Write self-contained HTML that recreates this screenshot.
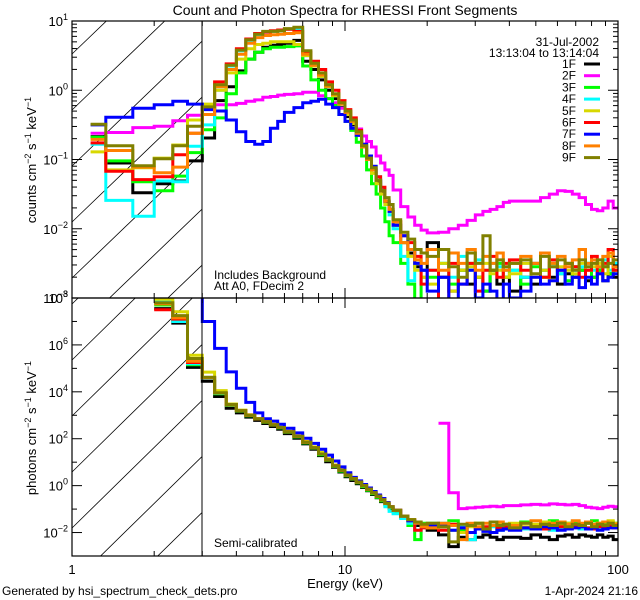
<!DOCTYPE html>
<html><head><meta charset="utf-8">
<style>
html,body{margin:0;padding:0;background:#fff;width:640px;height:600px;overflow:hidden;}
svg{display:block;font-family:"Liberation Sans",sans-serif;}
</style></head>
<body>
<svg id="chart" width="640" height="600" viewBox="0 0 640 600" xmlns="http://www.w3.org/2000/svg">
<rect x="0" y="0" width="640" height="600" fill="#fff"/>
<text x="345" y="15" font-size="14" text-anchor="middle">Count and Photon Spectra for RHESSI Front Segments</text>
<defs>
<clipPath id="clipTop"><rect x="72" y="21" width="546" height="277"/></clipPath>
<clipPath id="clipBot"><rect x="72" y="298" width="546" height="258"/></clipPath>
<clipPath id="hatchTop"><rect x="72" y="21" width="130" height="277"/></clipPath>
<clipPath id="hatchBot"><rect x="72" y="298" width="130" height="258"/></clipPath>
</defs>
<g id="hatch"></g>
<g id="series-top" clip-path="url(#clipTop)"></g>
<g id="series-bot" clip-path="url(#clipBot)"></g>
<g id="axes"></g>
<text transform="translate(36,160) rotate(-90)" font-size="13" text-anchor="middle">counts cm<tspan dy="-5" font-size="9">−2</tspan><tspan dy="5"> s</tspan><tspan dy="-5" font-size="9">−1</tspan><tspan dy="5"> keV</tspan><tspan dy="-5" font-size="9">−1</tspan></text>
<text transform="translate(36,428) rotate(-90)" font-size="13" text-anchor="middle">photons cm<tspan dy="-5" font-size="9">−2</tspan><tspan dy="5"> s</tspan><tspan dy="-5" font-size="9">−1</tspan><tspan dy="5"> keV</tspan><tspan dy="-5" font-size="9">−1</tspan></text>
<text x="345" y="588" font-size="13" text-anchor="middle">Energy (keV)</text>
<text x="599" y="46" font-size="12" text-anchor="end">31-Jul-2002</text>
<text x="599" y="57" font-size="12" text-anchor="end">13:13:04 to 13:14:04</text>
<g id="legend"></g>
<text x="214" y="279" font-size="12">Includes Background</text>
<text x="214" y="290" font-size="12">Att A0, FDecim 2</text>
<text x="214" y="547" font-size="12">Semi-calibrated</text>
<text x="2" y="595" font-size="12">Generated by hsi_spectrum_check_dets.pro</text>
<text x="638" y="595" font-size="12" text-anchor="end">1-Apr-2024 21:16</text>
</svg>
<script>
// Energy bin edges (keV)
const edges = [1.17,1.33,1.67,2.0,2.34,2.65,3.0,
 3.33,3.67,4,4.33,4.67,5,5.33,5.67,6,
 6.5,7,7.5,8,8.5,9,9.5,10,10.5,11,11.5,12,12.5,13,13.5,14,14.5,15,
 16,17,18,19,20,
 22,24,26,28,30,32,34,36,38,40,
 44,48,52,56,60,64,68,72,76,80,84,88,92,96,100];
const seriesNames = ["1F","2F","3F","4F","5F","6F","7F","8F","9F"];
const seriesColors = ["#000000","#ff00ff","#00ff00","#00ffff","#d8d800","#ff0000","#0000ff","#ff8000","#808000"];
// log10 counts cm^-2 s^-1 keV^-1 (top panel)
const counts1F = [-0.67,-1.05,-1.48,-1.35,-1.31,-1.02, -0.69,-0.15,0.05,0.28,0.45,0.55,0.62,0.65,0.66, 0.68,0.72,0.42,0.3,0.15,0.0,-0.12,-0.25,-0.38,-0.5,-0.65,-0.82,-1.0,-1.15,-1.32,-1.48,-1.62,-1.75, -1.95,-2.2,-2.35,-2.55,-2.6, -2.2,-2.7,-2.9,-2.6,-2.8,-2.7,-2.9,-2.6,-2.8,-2.7, -2.9,-2.7,-2.8,-2.6,-2.7,-2.8,-2.65,-2.7,-2.6,-2.75,-2.7,-2.6,-2.75,-2.65,-2.7];
const counts2F = [-0.62,-0.61,-0.54,-0.52,-0.44,-0.36, -0.24,-0.21,-0.21,-0.19,-0.16,-0.14,-0.1,-0.09,-0.07, -0.06,-0.05,-0.03,-0.03,-0.08,-0.12,-0.18,-0.26,-0.35,-0.46,-0.56,-0.66,-0.74,-0.82,-0.95,-1.05,-1.15,-1.23, -1.44,-1.68,-1.83,-1.95,-2.02, -2.06,-2.05,-2.0,-1.95,-1.88,-1.8,-1.75,-1.72,-1.68,-1.62, -1.6,-1.6,-1.6,-1.55,-1.5,-1.45,-1.46,-1.5,-1.55,-1.65,-1.72,-1.74,-1.7,-1.6,-1.7];
const counts3F = [-0.68,-1.02,-1.32,-1.45,-1.24,-0.9, -0.57,-0.4,-0.05,0.25,0.45,0.55,0.6,0.62,0.62, 0.63,0.64,0.35,0.15,0.0,-0.12,-0.22,-0.35,-0.45,-0.58,-0.75,-0.95,-1.15,-1.35,-1.5,-1.7,-1.9,-2.1, -2.2,-2.5,-2.8,-3.1,-2.7, -2.7,-2.5,-2.8,-2.6,-2.5,-2.7,-2.9,-2.6,-2.5,-2.7, -2.6,-2.8,-2.55,-2.7,-2.5,-2.65,-2.75,-2.55,-2.6,-2.5,-2.7,-2.6,-2.55,-2.65,-2.6];
const counts4F = [-0.78,-1.59,-1.82,-1.31,-1.32,-0.81, -0.5,0.0,0.35,0.57,0.72,0.8,0.84,0.85,0.86, 0.88,0.88,0.5,0.35,0.2,0.05,-0.08,-0.2,-0.32,-0.45,-0.62,-0.8,-0.95,-1.1,-1.25,-1.42,-1.65,-1.8, -2.0,-2.4,-2.75,-2.5,-2.6, -2.6,-2.5,-2.7,-2.4,-2.6,-2.45,-2.6,-2.5,-2.55,-2.6, -2.6,-2.7,-2.5,-2.6,-2.55,-2.65,-2.5,-2.6,-2.55,-2.5,-2.6,-2.55,-2.45,-2.6,-2.5];
const counts5F = [-0.89,-1.15,-1.12,-0.98,-0.79,-0.43, -0.2,0.0,0.25,0.45,0.6,0.66,0.68,0.7,0.7, 0.7,0.66,0.5,0.35,0.2,0.05,-0.08,-0.2,-0.35,-0.48,-0.62,-0.82,-1.0,-1.2,-1.35,-1.5,-1.65,-1.75, -1.95,-2.2,-2.4,-2.6,-2.7, -2.8,-2.5,-2.9,-2.6,-2.55,-2.7,-2.5,-2.65,-2.6,-2.7, -2.65,-2.5,-2.7,-2.6,-2.75,-2.55,-2.6,-2.65,-2.5,-2.6,-2.55,-2.5,-2.65,-2.4,-2.6];
const counts6F = [-0.76,-1.17,-1.29,-1.25,-0.93,-0.62, -0.25,0.12,0.38,0.6,0.74,0.82,0.84,0.86,0.87, 0.88,0.85,0.55,0.42,0.3,0.12,0.0,-0.15,-0.28,-0.4,-0.58,-0.78,-0.95,-1.1,-1.25,-1.4,-1.6,-1.72, -1.9,-2.1,-2.2,-2.4,-2.8, -2.6,-3.1,-2.5,-2.8,-2.5,-2.9,-2.6,-2.4,-2.7,-2.5, -2.45,-2.6,-2.5,-2.7,-2.45,-2.6,-2.5,-2.55,-2.7,-2.6,-2.4,-2.65,-2.5,-2.3,-2.6];
const counts7F = [-0.5,-0.39,-0.26,-0.21,-0.16,-0.2, -0.28,-0.3,-0.43,-0.6,-0.74,-0.78,-0.74,-0.55,-0.45, -0.32,-0.25,-0.18,-0.16,-0.13,-0.2,-0.25,-0.35,-0.45,-0.55,-0.65,-0.78,-0.95,-1.1,-1.3,-1.45,-1.6,-1.75, -1.95,-2.1,-2.3,-2.5,-2.6, -2.9,-2.7,-3.1,-2.8,-2.6,-3.0,-2.8,-2.9,-3.1,-2.8, -3.0,-2.9,-2.7,-2.8,-2.75,-2.6,-2.8,-2.7,-2.85,-2.7,-2.8,-2.65,-2.75,-2.7,-2.65];
const counts8F = [-0.71,-0.87,-1.11,-1.19,-1.11,-0.62, -0.35,0.05,0.3,0.52,0.68,0.76,0.79,0.8,0.81, 0.82,0.83,0.52,0.36,0.22,0.06,-0.06,-0.2,-0.32,-0.45,-0.62,-0.82,-1.0,-1.15,-1.3,-1.45,-1.6,-1.72, -1.9,-2.2,-2.3,-2.45,-2.5, -2.3,-2.6,-2.35,-2.5,-2.3,-2.6,-2.4,-2.5,-2.35,-2.6, -2.5,-2.4,-2.5,-2.35,-2.5,-2.4,-2.55,-2.45,-2.3,-2.5,-2.45,-2.55,-2.4,-2.35,-2.55];
const counts9F = [-0.49,-0.8,-1.09,-0.99,-0.8,-0.52, -0.24,0.08,0.36,0.58,0.73,0.81,0.85,0.85,0.86, 0.89,0.91,0.57,0.39,0.25,0.08,-0.05,-0.18,-0.3,-0.43,-0.6,-0.8,-0.98,-1.12,-1.3,-1.45,-1.55,-1.65, -1.87,-2.05,-2.15,-2.3,-2.35, -2.4,-2.3,-2.55,-2.7,-2.35,-2.5,-2.1,-2.6,-2.45,-2.55, -2.5,-2.45,-2.65,-2.4,-2.55,-2.45,-2.5,-2.6,-2.45,-2.55,-2.5,-2.45,-2.55,-2.5,-2.45];
// log10 photons cm^-2 s^-1 keV^-1 (bottom panel)
const photons1F = [null,null,null,7.55,6.93,5.04, 4.45,3.8,3.3,3.1,2.92,2.78,2.65,2.52,2.4, 2.22,2.02,1.78,1.55,1.28,1.02,0.78,0.58,0.38,0.22,0.08,-0.08,-0.22,-0.38,-0.52,-0.68,-0.82,-0.98, -1.12,-1.35,-1.5,-1.7,-1.75, -1.9,-2.1,-2.6,-2.2,-2.3,-2.2,-2.1,-2.2,-2.3,-2.2, -2.2,-2.25,-2.1,-2.2,-2.3,-2.15,-2.1,-2.2,-2.1,-2.15,-2.2,-2.1,-2.2,-2.15,-2.3];
const photons2F = [null,null,null,null,null,null, null,null,null,null,null,null,null,null,null, null,null,null,null,null,null,null,null,null,null,null,null,null,null,null,null,null,null, null,null,null,null,null, null,2.66,-0.3,-0.98,-0.95,-0.92,-0.9,-0.88,-0.9,-0.85, -0.85,-0.82,-0.8,-0.82,-0.78,-0.8,-0.82,-0.8,-0.85,-0.92,-0.95,-0.98,-0.92,-0.88,-0.9];
const photons3F = [null,null,null,7.7,7.05,5.15, 4.6,3.92,3.42,3.18,2.98,2.84,2.7,2.58,2.46, 2.28,2.08,1.82,1.6,1.32,1.08,0.82,0.62,0.42,0.28,0.12,-0.05,-0.2,-0.35,-0.5,-0.65,-0.8,-0.95, -1.1,-1.3,-1.7,-2.3,-1.6, -1.6,-1.75,-1.5,-1.9,-1.7,-1.6,-1.8,-2.0,-1.7,-1.65, -1.7,-1.55,-1.75,-1.6,-1.5,-1.7,-1.6,-1.55,-1.65,-1.6,-1.5,-1.7,-1.6,-1.55,-1.6];
const photons4F = [null,null,null,7.85,7.0,5.2, 4.58,3.94,3.44,3.2,3.0,2.85,2.72,2.6,2.48, 2.3,2.1,1.85,1.62,1.35,1.1,0.85,0.65,0.45,0.3,0.15,0.0,-0.15,-0.3,-0.45,-0.6,-0.9,-1.1, -1.2,-1.4,-1.6,-1.9,-1.7, -1.75,-1.6,-1.9,-1.7,-2.3,-1.8,-1.85,-1.75,-1.9,-1.8, -1.75,-1.85,-1.7,-1.8,-1.9,-1.85,-1.8,-1.75,-1.85,-1.8,-1.75,-1.8,-1.75,-1.7,-1.75];
const photons5F = [null,null,null,7.95,7.41,5.56, 4.84,4.05,3.48,3.22,3.02,2.86,2.74,2.62,2.5, 2.32,2.12,1.88,1.65,1.42,1.15,0.88,0.68,0.48,0.32,0.15,0.0,-0.15,-0.3,-0.45,-0.6,-0.75,-0.9, -1.05,-1.3,-1.45,-1.55,-1.65, -1.8,-1.7,-1.9,-2.0,-1.75,-1.6,-1.85,-1.7,-1.65,-1.75, -1.6,-1.75,-1.65,-1.55,-1.7,-1.65,-1.6,-1.7,-1.65,-1.6,-1.7,-1.6,-1.55,-1.5,-1.6];
const photons6F = [null,null,null,7.5,7.1,5.25, 4.6,3.95,3.45,3.2,3.0,2.85,2.72,2.6,2.48, 2.3,2.1,1.85,1.62,1.35,1.1,0.85,0.65,0.45,0.3,0.15,0.0,-0.15,-0.3,-0.45,-0.6,-0.75,-0.9, -1.05,-1.3,-1.5,-1.9,-1.8, -1.7,-1.9,-1.65,-1.8,-1.7,-1.85,-1.75,-1.7,-1.8,-1.75, -1.7,-1.8,-1.75,-1.85,-1.7,-1.75,-1.8,-1.7,-1.75,-1.8,-1.85,-1.75,-1.8,-1.7,-1.8];
const photons7F = [null,null,null,9,9,9, 7.0,5.85,4.85,4.15,3.55,3.1,2.85,2.75,2.62, 2.45,2.25,2.02,1.8,1.55,1.3,1.05,0.8,0.55,0.35,0.2,0.05,-0.1,-0.25,-0.4,-0.55,-0.72,-0.9, -1.05,-1.3,-1.5,-1.6,-1.75, -1.7,-1.65,-1.9,-1.8,-2.0,-1.85,-1.95,-2.0,-1.9,-1.85, -1.9,-1.8,-1.85,-1.75,-1.8,-1.9,-1.85,-1.8,-1.75,-1.85,-1.8,-1.9,-1.85,-1.8,-1.8];
const photons8F = [null,null,null,7.75,7.15,5.3, 4.6,3.95,3.45,3.2,3.0,2.85,2.72,2.6,2.48, 2.3,2.1,1.85,1.62,1.35,1.1,0.85,0.65,0.45,0.3,0.15,0.0,-0.15,-0.3,-0.45,-0.6,-0.75,-0.9, -1.05,-1.3,-1.45,-1.6,-1.75, -1.8,-1.6,-1.7,-2.3,-1.6,-1.75,-1.6,-1.7,-1.55,-1.65, -1.7,-1.6,-1.5,-1.65,-1.6,-1.55,-1.65,-1.5,-1.6,-1.55,-1.65,-1.6,-1.55,-1.6,-1.65];
const photons9F = [null,null,null,7.8,7.25,5.42, 4.62,3.96,3.46,3.2,3.0,2.85,2.72,2.6,2.48, 2.3,2.1,1.85,1.62,1.35,1.1,0.85,0.65,0.45,0.3,0.15,0.0,-0.15,-0.3,-0.45,-0.6,-0.75,-0.9, -1.05,-1.3,-1.45,-1.55,-1.65, -1.6,-1.75,-2.4,-1.65,-1.7,-1.6,-1.85,-1.55,-1.7,-1.65, -1.8,-1.6,-1.75,-1.65,-1.7,-1.6,-1.75,-1.65,-1.7,-1.6,-1.75,-1.65,-1.7,-1.6,-1.7];
const countSeries = [counts1F,counts2F,counts3F,counts4F,counts5F,counts6F,counts7F,counts8F,counts9F];
const photonSeries = [photons1F,photons2F,photons3F,photons4F,photons5F,photons6F,photons7F,photons8F,photons9F];
const xTickLabels = ["1","10","100"];
const topExpLabels = ["1","0","−1","−2","−3"];
const botExpLabels = ["8","6","4","2","0","−2"];

const NS = "http://www.w3.org/2000/svg";
const X0 = 72, X1 = 618;
const xs = e => X0 + Math.log10(e) / 2 * (X1 - X0);
const yTop = v => 21 + (1 - v) * (277 / 4);
const yBot = v => 298 + (8 - v) * (258 / 11);

function mk(tag, attrs, parent){ const el = document.createElementNS(NS, tag); for (const k in attrs) el.setAttribute(k, attrs[k]); parent.appendChild(el); return el; }

function stepPath(vals, yf){
  let d = ""; let open = false;
  for (let i = 0; i < vals.length; i++){
    const v = vals[i];
    if (v === null || v === undefined){ open = false; continue; }
    const y = yf(v).toFixed(1);
    d += (open ? "L" : "M") + xs(edges[i]).toFixed(1) + " " + y + "L" + xs(edges[i+1]).toFixed(1) + " " + y;
    open = true;
  }
  return d;
}

// hatch
const hatch = document.getElementById("hatch");
const hT = mk("g", {"clip-path":"url(#hatchTop)"}, hatch);
for (let y0 = -29; y0 < 420; y0 += 56){
  const ln = mk("line", {x1:72, y1:y0+27, x2:240, y2:y0+27-0.96*168, stroke:"#000","stroke-width":0.8}, hT);
  
  
}
const hB = mk("g", {"clip-path":"url(#hatchBot)"}, hatch);
for (let y0 = 304; y0 < 720; y0 += 56){
  const ln = mk("line", {x1:72, y1:y0, x2:240, y2:y0-0.98*168, stroke:"#000","stroke-width":0.8}, hB);
  
  
}

// series
const gT = document.getElementById("series-top"), gB = document.getElementById("series-bot");
for (let s = 0; s < 9; s++){
  const p1 = mk("path", {d: stepPath(countSeries[s], yTop), fill:"none", stroke:seriesColors[s], "stroke-width":3}, gT);
  
  
  const p2 = mk("path", {d: stepPath(photonSeries[s], yBot), fill:"none", stroke:seriesColors[s], "stroke-width":3}, gB);
  
  
}

// axes
const ax = document.getElementById("axes");
mk("line", {x1:202, y1:21, x2:202, y2:556, stroke:"#000","stroke-width":1}, ax);
for (const [t, b] of [[21,298],[298,556]]){
  const r = mk("rect", {x:X0, y:t, width:X1-X0, height:b-t, fill:"none", stroke:"#000", "stroke-width":1.2}, ax);
  
  
  for (let dec = 0; dec < 2; dec++){
    for (let m = 1; m <= 9; m++){
      const x = xs(m * Math.pow(10, dec));
      const L = m === 1 ? 10 : 5;
      mk("line", {x1:x, y1:b, x2:x, y2:b-L, stroke:"#000"}, ax);
      mk("line", {x1:x, y1:t, x2:x, y2:t+L, stroke:"#000"}, ax);
    }
  }
}
for (let d = -3; d <= 1; d++){
  for (let m = 1; m <= 9; m++){
    const v = d + Math.log10(m); if (v > 1) continue;
    const y = yTop(v), L = m === 1 ? 10 : 5;
    mk("line", {x1:X0, y1:y, x2:X0+L, y2:y, stroke:"#000"}, ax);
    mk("line", {x1:X1, y1:y, x2:X1-L, y2:y, stroke:"#000"}, ax);
  }
}
for (let v = -3; v <= 8; v++){
  const y = yBot(v), L = (v % 2 === 0) ? 10 : 5;
  mk("line", {x1:X0, y1:y, x2:X0+L, y2:y, stroke:"#000"}, ax);
  mk("line", {x1:X1, y1:y, x2:X1-L, y2:y, stroke:"#000"}, ax);
}
function powLabel(y, exp, name){
  const t = mk("text", {x:68, y:y+5, "font-size":13, "text-anchor":"end"}, ax);
  
  
  const a = document.createElementNS(NS, "tspan"); a.textContent = "10"; t.appendChild(a);
  const b = document.createElementNS(NS, "tspan"); b.setAttribute("dy", "-6"); b.setAttribute("font-size", "9"); b.textContent = exp; t.appendChild(b);
}
topExpLabels.forEach((e, i) => powLabel(yTop(1 - i), e, 'y-tick-label-counts'));
botExpLabels.forEach((e, i) => powLabel(yBot(8 - 2*i), e, 'y-tick-label-photons'));
xTickLabels.forEach((lab, i) => {
  const t = mk("text", {x: xs(Math.pow(10, i)), y: 574, "font-size":13, "text-anchor":"middle"}, ax);
  t.textContent = lab;
  
  
});

// legend
const lg = document.getElementById("legend");
for (let s = 0; s < 9; s++){
  const y = 64 + s * 11.7;
  const t = mk("text", {x:576, y:y+4, "font-size":12, "text-anchor":"end"}, lg);
  t.textContent = seriesNames[s];
  
  
  const l = mk("line", {x1:584, y1:y, x2:600, y2:y, stroke:seriesColors[s], "stroke-width":3}, lg);
  
  
}
</script>
</body></html>
